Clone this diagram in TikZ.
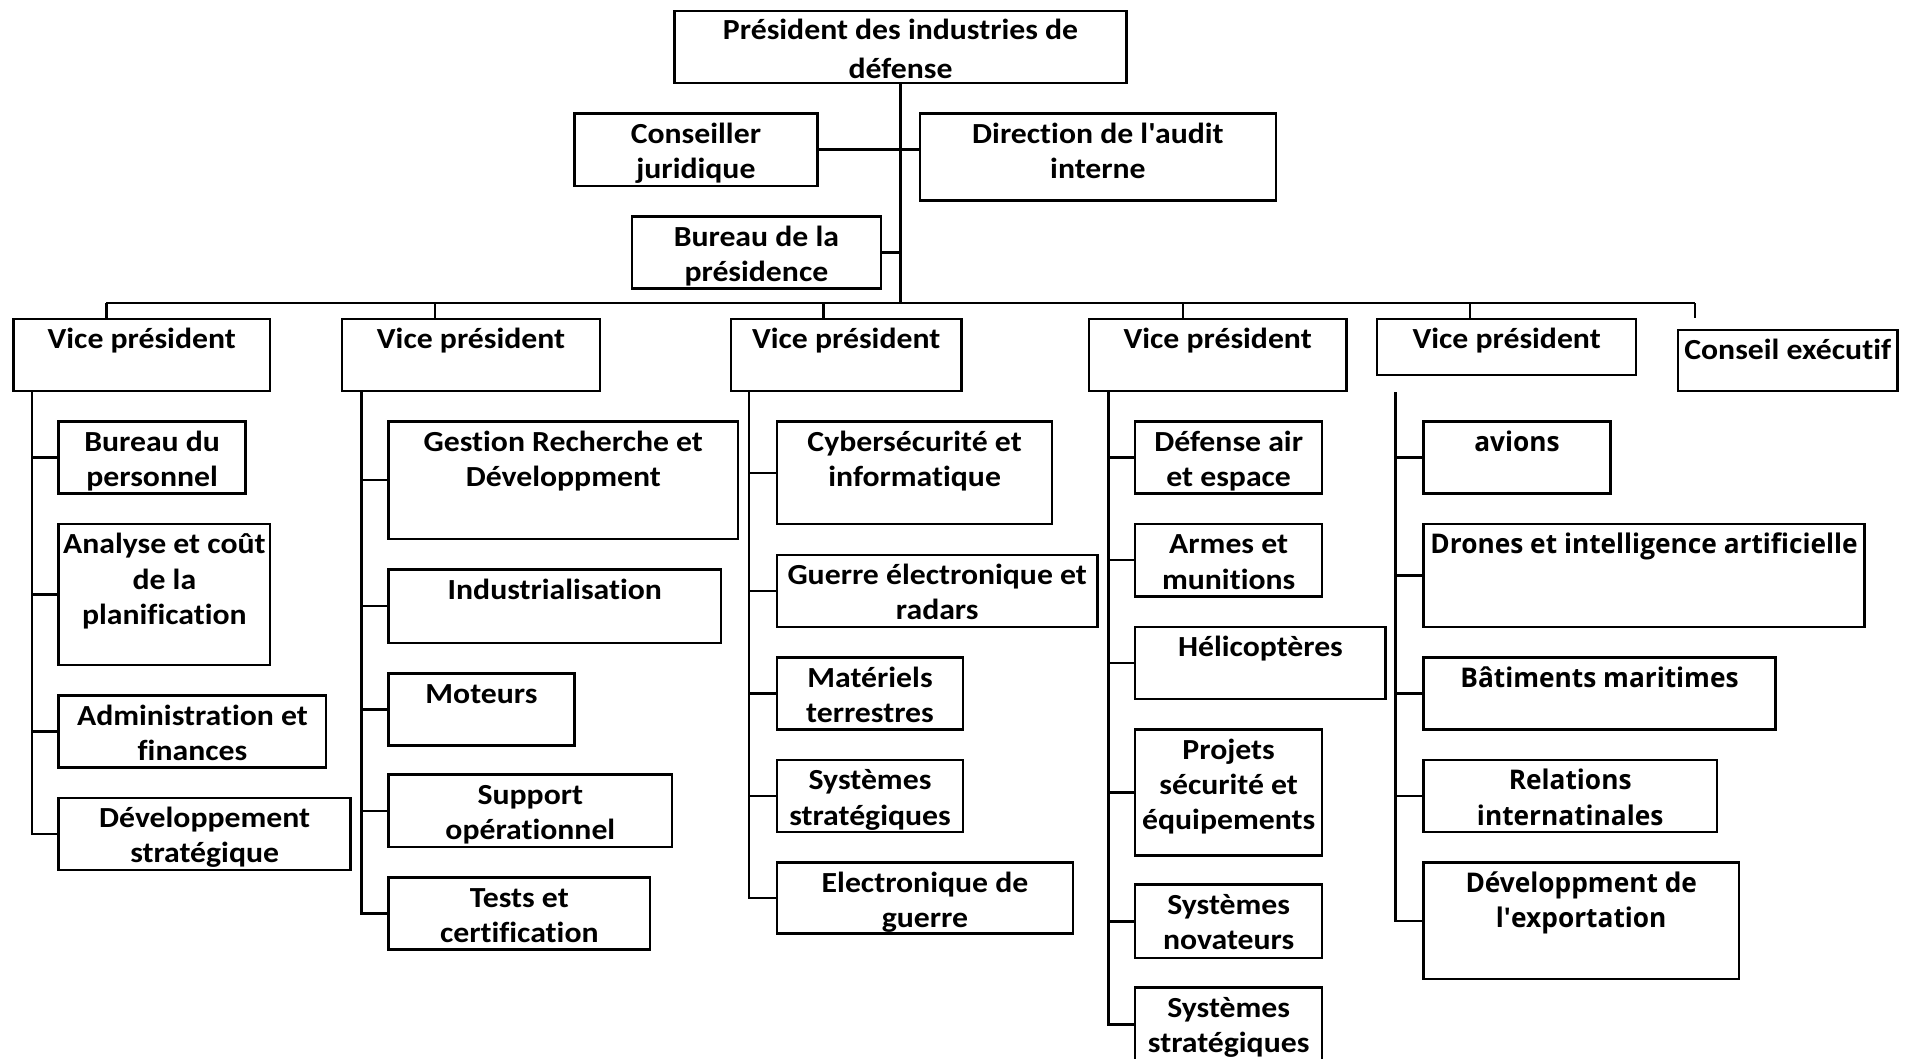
\documentclass[tikz,border=0pt]{standalone}
\usepackage{fontspec}
\setmainfont{Carlito}[FakeStretch=1.09, Ligatures={NoCommon}]
\newfontfamily\widefont{Open Sans}[FakeStretch=0.97]
\usetikzlibrary{positioning,fit}

\newcommand{\boxtext}[1]{\begin{tabular}[t]{@{}c@{}}#1\end{tabular}}

\tikzset{
  box/.style={draw, line width=1.2pt, inner sep=0pt},
  lbl/.style={font=\bfseries\fontsize{14.3}{17.3}\selectfont, inner sep=0pt},
  lblw/.style={lbl, font=\widefont\bfseries\fontsize{13.3}{17.3}\selectfont},
  link/.style={line width=1.2pt},
  trunk/.style={line width=1.6pt},
}

\begin{document}
\begin{tikzpicture}[x=0.6pt,y=-0.6pt]
        \useasboundingbox (0,0) rectangle (1568,866);
        \fill[white] (0,0) rectangle (1568,866);
        \clip (0,0) rectangle (1568,866);

        %Shape: Rectangle (top)
        \node[box, fit={(552,9) (922,68)}] (pres) {};
        \node[box, fit={(470,93) (669,152)}] (cj) {};
        \node[box, fit={(753,93) (1044,164)}] (dai) {};
        \node[box, fit={(517,177) (721,236)}] (bp) {};
        % Text Node
        \node[lbl, below=14.8pt of pres.north, anchor=base] (prest) {\boxtext{Président des industries de\\[1.8pt]défense}};
        \node[lbl, below=15.2pt of cj.north, anchor=base] (cjt) {\boxtext{Conseiller\\juridique}};
        \node[lbl, below=15.2pt of dai.north, anchor=base] (dait) {\boxtext{Direction de l\textquotesingle audit\\interne}};
        \node[lbl, below=15.2pt of bp.north, anchor=base] (bpt) {\boxtext{Bureau de la\\présidence}};

        %Shape: Rectangle (vice presidents)
        \node[box, fit={(11,261) (221,320)}] (vp1) {};
        \node[box, fit={(280,261) (491,320)}] (vp2) {};
        \node[box, fit={(598,261) (787,320)}] (vp3) {};
        \node[box, fit={(891,261) (1102,320)}] (vp4) {};
        \node[box, fit={(1127,261) (1339,307)}] (vp5) {};
        \node[box, fit={(1373,270) (1553,320)}] (ce) {};
        % Text Node
        \node[lbl, below=15.2pt of vp1.north, anchor=base] (vp1t) {\boxtext{Vice président}};
        \node[lbl, below=15.2pt of vp2.north, anchor=base] (vp2t) {\boxtext{Vice président}};
        \node[lbl, below=15.2pt of vp3.north, anchor=base] (vp3t) {\boxtext{Vice président}};
        \node[lbl, below=15.2pt of vp4.north, anchor=base] (vp4t) {\boxtext{Vice président}};
        \node[lbl, below=15.2pt of vp5.north, anchor=base] (vp5t) {\boxtext{Vice président}};
        \node[lbl, below=15.2pt of ce.north, anchor=base] (cet) {\boxtext{Conseil exécutif}};

        %Shape: Rectangle (first column)
        \node[box, fit={(48,345) (201,404)}] (a1) {};
        \node[box, fit={(48,429) (221,544)}] (a2) {};
        \node[box, fit={(48,569) (267,628)}] (a3) {};
        \node[box, fit={(48,653) (287,712)}] (a4) {};
        % Text Node
        \node[lbl, below=15.2pt of a1.north, anchor=base] (a1t) {\boxtext{Bureau du\\personnel}};
        \node[lbl, below=15.2pt of a2.north, anchor=base] (a2t) {\boxtext{Analyse et coût\\de la\\planification}};
        \node[lbl, below=15.2pt of a3.north, anchor=base] (a3t) {\boxtext{Administration et\\finances}};
        \node[lbl, below=15.2pt of a4.north, anchor=base] (a4t) {\boxtext{Développement\\stratégique}};

        %Shape: Rectangle (second column)
        \node[box, fit={(318,345) (604,441)}] (b1) {};
        \node[box, fit={(318,466) (590,526)}] (b2) {};
        \node[box, fit={(318,551) (470,610)}] (b3) {};
        \node[box, fit={(318,634) (550,693)}] (b4) {};
        \node[box, fit={(318,718) (532,777)}] (b5) {};
        % Text Node
        \node[lbl, below=15.2pt of b1.north, anchor=base] (b1t) {\boxtext{Gestion Recherche et\\Développment}};
        \node[lbl, below=15.2pt of b2.north, anchor=base] (b2t) {\boxtext{Industrialisation}};
        \node[lbl, below=15.2pt of b3.north, anchor=base] (b3t) {\boxtext{Moteurs}};
        \node[lbl, below=15.2pt of b4.north, anchor=base] (b4t) {\boxtext{Support\\opérationnel}};
        \node[lbl, below=15.2pt of b5.north, anchor=base] (b5t) {\boxtext{Tests et\\certification}};

        %Shape: Rectangle (third column)
        \node[box, fit={(636,345) (861,429)}] (c1) {};
        \node[box, fit={(636,454) (898,513)}] (c2) {};
        \node[box, fit={(636,538) (788,597)}] (c3) {};
        \node[box, fit={(636,622) (788,681)}] (c4) {};
        \node[box, fit={(636,706) (878,764)}] (c5) {};
        % Text Node
        \node[lbl, below=15.2pt of c1.north, anchor=base] (c1t) {\boxtext{Cybersécurité et\\informatique}};
        \node[lbl, below=15.2pt of c2.north, anchor=base] (c2t) {\boxtext{Guerre électronique et\\radars}};
        \node[lbl, below=15.2pt of c3.north, anchor=base] (c3t) {\boxtext{Matériels\\terrestres}};
        \node[lbl, below=15.2pt of c4.north, anchor=base] (c4t) {\boxtext{Systèmes\\stratégiques}};
        \node[lbl, below=15.2pt of c5.north, anchor=base] (c5t) {\boxtext{Electronique de\\guerre}};

        %Shape: Rectangle (fourth column)
        \node[box, fit={(929,345) (1082,404)}] (d1) {};
        \node[box, fit={(929,429) (1082,488)}] (d2) {};
        \node[box, fit={(929,513) (1134,572)}] (d3) {};
        \node[box, fit={(929,597) (1082,700)}] (d4) {};
        \node[box, fit={(929,724) (1082,784)}] (d5) {};
        \node[box, fit={(929,808) (1082,869)}] (d6) {};
        % Text Node
        \node[lbl, below=15.2pt of d1.north, anchor=base] (d1t) {\boxtext{Défense air\\et espace}};
        \node[lbl, below=15.2pt of d2.north, anchor=base] (d2t) {\boxtext{Armes et\\munitions}};
        \node[lbl, below=15.2pt of d3.north, anchor=base] (d3t) {\boxtext{Hélicoptères}};
        \node[lbl, below=15.2pt of d4.north, anchor=base] (d4t) {\boxtext{Projets\\sécurité et\\équipements}};
        \node[lbl, below=15.2pt of d5.north, anchor=base] (d5t) {\boxtext{Systèmes\\novateurs}};
        \node[lbl, below=15.2pt of d6.north, anchor=base] (d6t) {\boxtext{Systèmes\\stratégiques}};

        %Shape: Rectangle (fifth column)
        \node[box, fit={(1165,345) (1318,404)}] (e1) {};
        \node[box, fit={(1165,429) (1526,513)}] (e2) {};
        \node[box, fit={(1165,538) (1453,597)}] (e3) {};
        \node[box, fit={(1165,622) (1405,681)}] (e4) {};
        \node[box, fit={(1165,706) (1423,801)}] (e5) {};
        % Text Node
        \node[lblw, below=15.2pt of e1.north, anchor=base] (e1t) {\boxtext{avions}};
        \node[lblw, below=15.2pt of e2.north, anchor=base] (e2t) {\boxtext{Drones et intelligence artificielle}};
        \node[lblw, below=15.2pt of e3.north, anchor=base] (e3t) {\boxtext{Bâtiments maritimes}};
        \node[lblw, below=15.2pt of e4.north, anchor=base] (e4t) {\boxtext{Relations\\internatinales}};
        \node[lblw, below=15.2pt of e5.north, anchor=base] (e5t) {\boxtext{Développment de\\l\textquotesingle exportation}};

        %Straight Lines (top)
        \coordinate (bus1) at (87,248);
        \coordinate (bus2) at (356,248);
        \coordinate (bus3) at (674,248);
        \coordinate (bus4) at (968,248);
        \coordinate (bus5) at (1203,248);
        \coordinate (bus6) at (1387,248);
        \coordinate (cetick) at (1387,260);
        \draw[trunk] (pres.south) -- (pres.south |- bus1);
        \draw[link] (cj.east) -- (cj.east -| dai.west);
        \draw[link] (bp.east) -- (bp.east -| pres.south);
        \draw[link] (bus1) -- (bus6);
        \draw[link] (bus1) -- (bus1 |- vp1.north);
        \draw[link] (bus2) -- (bus2 |- vp2.north);
        \draw[link] (bus3) -- (bus3 |- vp3.north);
        \draw[link] (bus4) -- (bus4 |- vp4.north);
        \draw[link] (bus5) -- (bus5 |- vp5.north);
        \draw[link] (bus6) -- (cetick);

        %Straight Lines (first column)
        \coordinate (sp1) at (26,320);
        \draw[link] (sp1) |- (a4.west);
        \draw[link] (sp1 |- a1.west) -- (a1.west);
        \draw[link] (sp1 |- a2.west) -- (a2.west);
        \draw[link] (sp1 |- a3.west) -- (a3.west);

        %Straight Lines (second column)
        \coordinate (sp2) at (296,320);
        \draw[link] (sp2) |- (b5.west);
        \draw[link] (sp2 |- b1.west) -- (b1.west);
        \draw[link] (sp2 |- b2.west) -- (b2.west);
        \draw[link] (sp2 |- b3.west) -- (b3.west);
        \draw[link] (sp2 |- b4.west) -- (b4.west);

        %Straight Lines (third column)
        \coordinate (sp3) at (613,320);
        \draw[link] (sp3) |- (c5.west);
        \draw[link] (sp3 |- c1.west) -- (c1.west);
        \draw[link] (sp3 |- c2.west) -- (c2.west);
        \draw[link] (sp3 |- c3.west) -- (c3.west);
        \draw[link] (sp3 |- c4.west) -- (c4.west);

        %Straight Lines (fourth column)
        \coordinate (sp4) at (907,320);
        \draw[link] (sp4) |- (d6.west);
        \draw[link] (sp4 |- d1.west) -- (d1.west);
        \draw[link] (sp4 |- d2.west) -- (d2.west);
        \draw[link] (sp4 |- d3.west) -- (d3.west);
        \draw[link] (sp4 |- d4.west) -- (d4.west);
        \draw[link] (sp4 |- d5.west) -- (d5.west);

        %Straight Lines (fifth column)
        \coordinate (sp5) at (1142,321);
        \draw[link] (sp5) |- (e5.west);
        \draw[link] (sp5 |- e1.west) -- (e1.west);
        \draw[link] (sp5 |- e2.west) -- (e2.west);
        \draw[link] (sp5 |- e3.west) -- (e3.west);
        \draw[link] (sp5 |- e4.west) -- (e4.west);

\end{tikzpicture}
\end{document}
